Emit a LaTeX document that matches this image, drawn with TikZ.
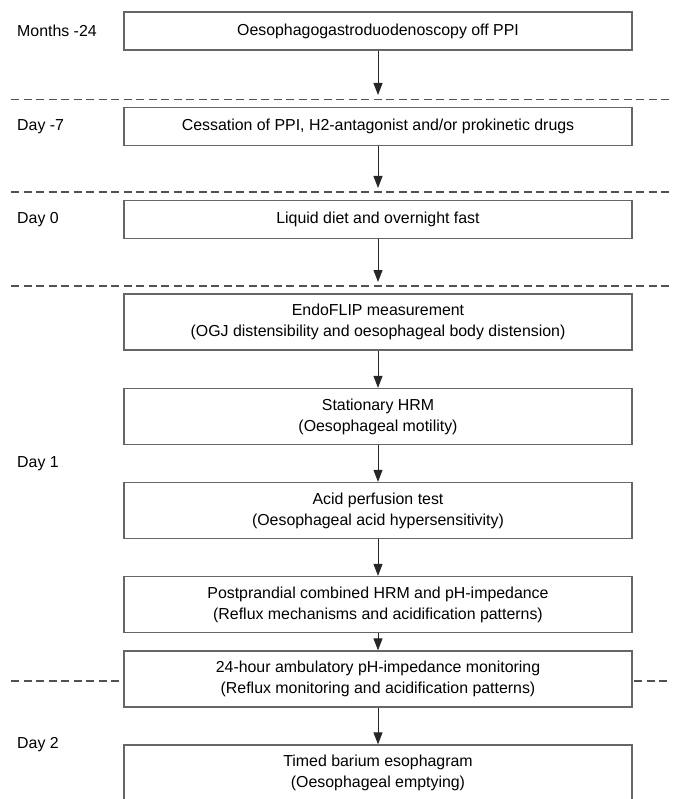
\documentclass[tikz,border=0pt]{standalone}
\usepackage{fontspec}
\setmainfont{Liberation Sans}
\usetikzlibrary{arrows.meta}
\begin{document}
\begin{tikzpicture}[x=1pt,y=-1pt,
  font=\fontsize{15.9}{20.8}\selectfont,
  stepbox/.style={draw=black!60,line width=1.3pt,fill=white,minimum width=508pt,align=center,inner sep=0pt},
  tall/.style={minimum height=56pt},
  short/.style={minimum height=38pt},
  flow/.style={draw=black!85,line width=1pt,-{Triangle[length=12pt,width=9pt]}},
  sep/.style={draw=black!68,line width=1.7pt,dash pattern=on 8pt off 4.5pt},
  daylabel/.style={anchor=west,inner sep=0pt}]
\useasboundingbox (0,0) rectangle (673,799);
\begin{scope}
\clip (0,0) rectangle (673,799);
% separators
\draw[sep] (11,99.5) -- (670,99.5);
\draw[sep] (11,192) -- (670,192);
\draw[sep] (11,286) -- (670,286);
\draw[sep] (11,681) -- (124,681);
\draw[sep] (634,681) -- (670,681);
% boxes
\node[stepbox,short] (b1) at (378,31) {Oesophagogastroduodenoscopy off PPI};
\node[stepbox,short] (b2) at (378,126.5) {Cessation of PPI, H2-antagonist and/or prokinetic drugs};
\node[stepbox,short] (b3) at (378,219.5) {Liquid diet and overnight fast};
\node[stepbox,tall] (b4) at (378,322) {EndoFLIP measurement\\(OGJ distensibility and oesophageal body distension)};
\node[stepbox,tall] (b5) at (378,416.5) {Stationary HRM\\(Oesophageal motility)};
\node[stepbox,tall] (b6) at (378,510.5) {Acid perfusion test\\(Oesophageal acid hypersensitivity)};
\node[stepbox,tall] (b7) at (378,604.5) {Postprandial combined HRM and pH-impedance\\(Reflux mechanisms and acidification patterns)};
\node[stepbox,tall] (b8) at (378,679) {24-hour ambulatory pH-impedance monitoring\\(Reflux monitoring and acidification patterns)};
\node[stepbox,tall] (b9) at (378,773) {Timed barium esophagram\\(Oesophageal emptying)};
% day labels
\node[daylabel] (l1) at (17,31) {Months -24};
\node[daylabel] (l2) at (17,126.5) {Day -7};
\node[daylabel] (l3) at (17,219.5) {Day 0};
\node[daylabel] (l4) at (17,463.5) {Day 1};
\node[daylabel] (l5) at (17,745) {Day 2};
% arrow ends
\coordinate (t1) at (378,95);
\coordinate (t2) at (378,188);
\coordinate (t3) at (378,282);
% arrows
\draw[flow] (b1.south) -- (t1);
\draw[flow] (b2.south) -- (t2);
\draw[flow] (b3.south) -- (t3);
\draw[flow] (b4.south) -- (b5.north);
\draw[flow] (b5.south) -- (b6.north);
\draw[flow] (b6.south) -- (b7.north);
\draw[flow] (b7.south) -- (b8.north);
\draw[flow] (b8.south) -- (b9.north);
\end{scope}
\end{tikzpicture}
\end{document}
